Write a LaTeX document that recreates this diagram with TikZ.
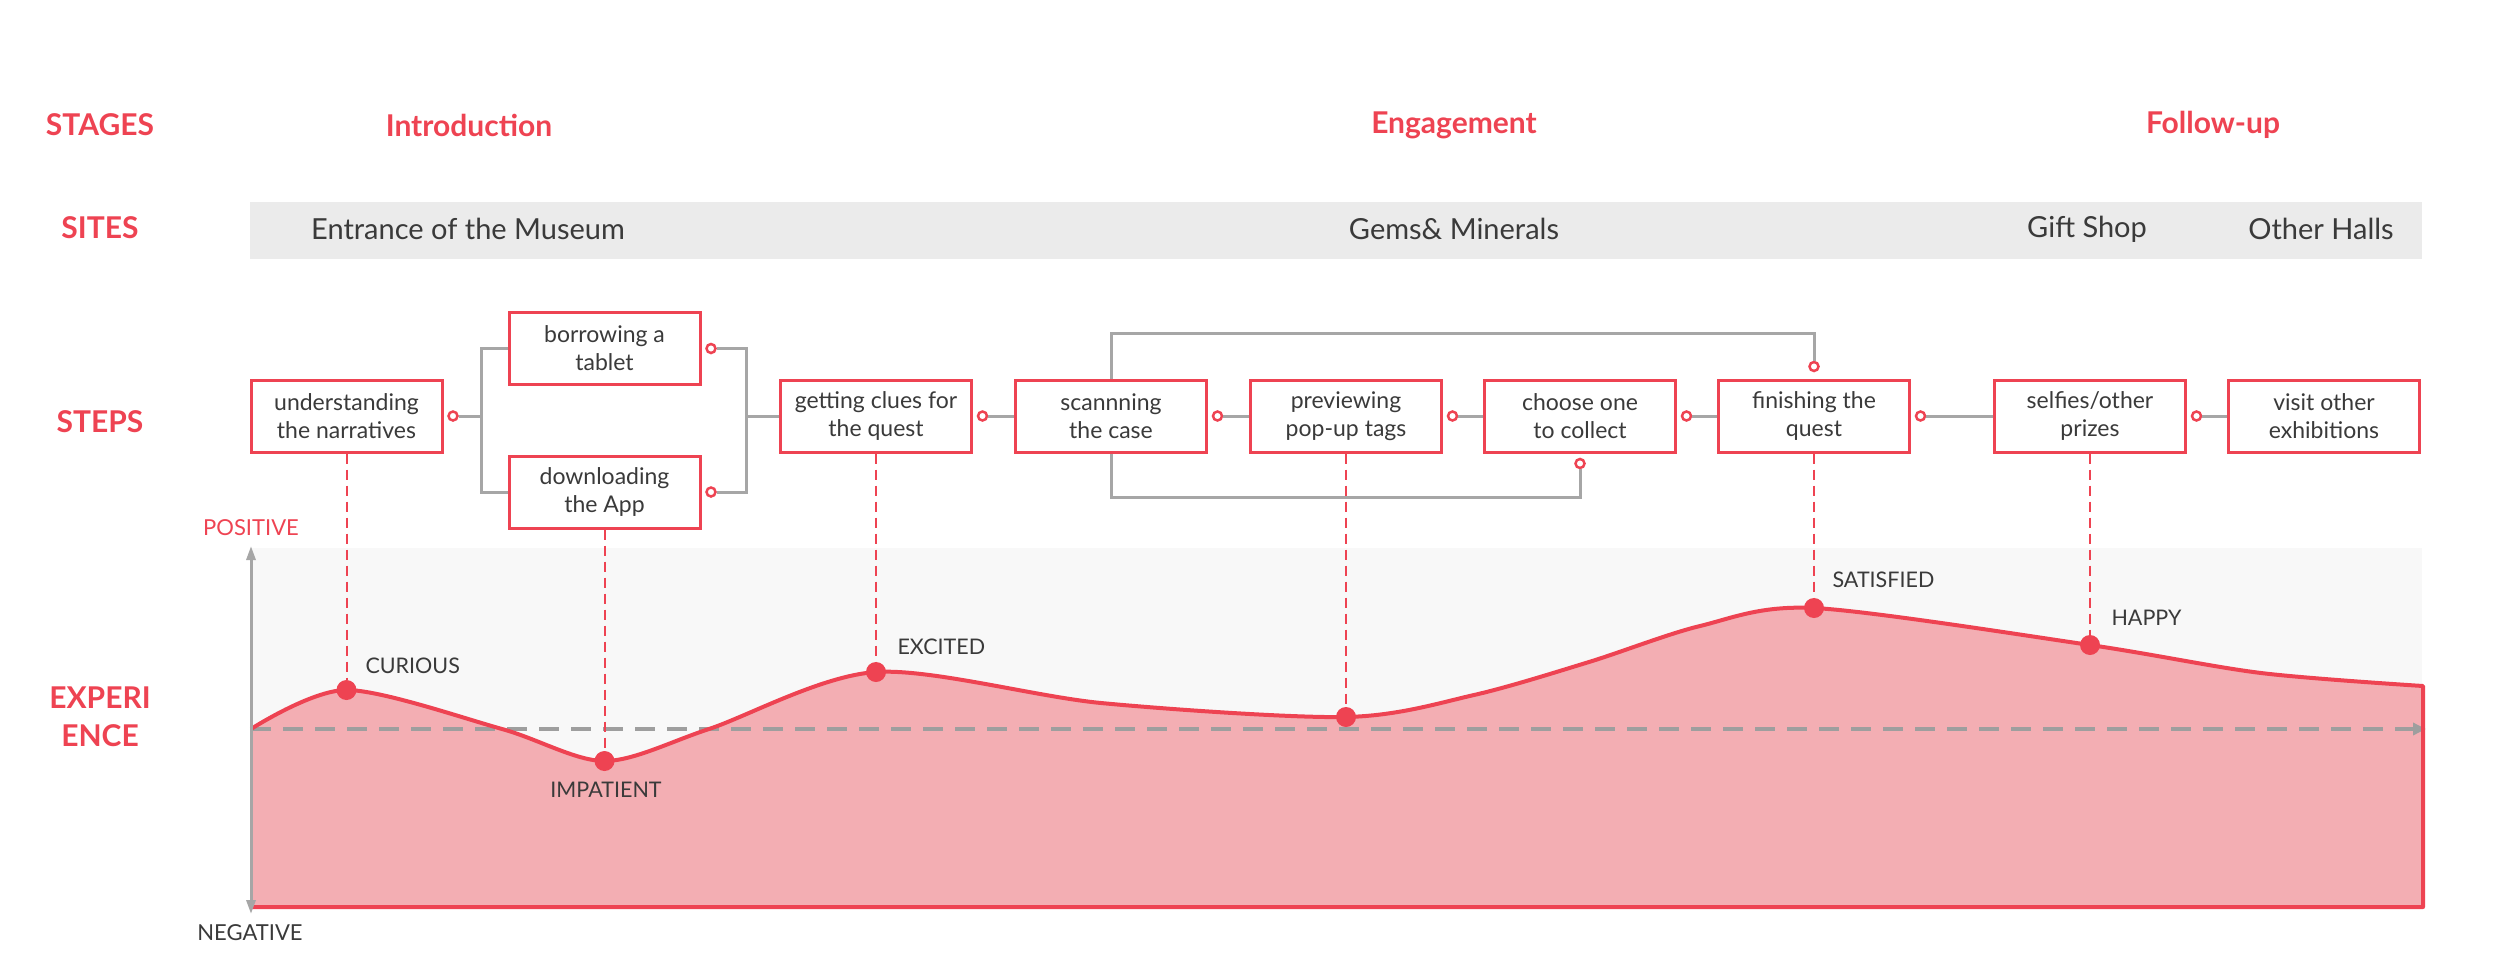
\documentclass[tikz,border=0pt]{standalone}
\usepackage{fontspec}
\setmainfont{Lato}
\usetikzlibrary{arrows.meta}
\definecolor{jred}{HTML}{EE4352}
\definecolor{jpink}{HTML}{F3AEB3}
\definecolor{jbg}{HTML}{F8F8F8}
\definecolor{jband}{HTML}{EBEBEB}
\definecolor{jline}{HTML}{A6A6A6}
\definecolor{jtext}{HTML}{3A3A3A}
\definecolor{jbase}{HTML}{9E9E9E}
\begin{document}
\begin{tikzpicture}[x=1pt,y=-1pt,
  stepbox/.style={draw=jred, line width=3pt, fill=white, minimum width=191pt, minimum height=72pt, inner sep=0pt, align=center, font=\fontsize{23}{28}\selectfont, text=jtext},
  port/.style={circle, draw=jred, fill=white, line width=2.5pt, minimum size=9pt, inner sep=0pt},
  dot/.style={circle, fill=jred, minimum size=20pt, inner sep=0pt},
  link/.style={draw=jline, line width=3pt},
  drop/.style={draw=jred, line width=2pt, dash pattern=on 10pt off 6pt},
  head/.style={font=\fontsize{30}{36}\bfseries\selectfont, text=jred},
  site/.style={font=\fontsize{29}{34}\selectfont, text=jtext},
  emo/.style={font=\fontsize{21.5}{26}\selectfont, text=jtext},
  axlab/.style={font=\fontsize{22}{26}\selectfont},
]
\useasboundingbox (0,0) rectangle (2500,977);
% rows labels
\node[head] (hstages) at (100,125) {STAGES};
\node[head] (hsites) at (100,228) {SITES};
\node[head] (hsteps) at (100,422) {STEPS};
\node[head] (hexp1) at (100,698) {EXPERI};
\node[head] (hexp2) at (100,736) {ENCE};
% stages
\node[head] (st1) at (469,125) {Introduction};
\node[head] (st2) at (1454,125) {Engagement};
\node[head] (st3) at (2213,125) {Follow-up};
% sites band
\fill[jband] (250,202) rectangle (2422,259);
\node[site] (s1) at (468,229) {Entrance of the Museum};
\node[site] (s2) at (1454,229) {Gems\& Minerals};
\node[site] (s3) at (2087,229) {Gift Shop};
\node[site] (s4) at (2321,229) {Other Halls};
% experience area
\fill[jbg] (251,548) rectangle (2422,907);
\fill[jpink] (251,907) -- plot[smooth] coordinates {(251,729) (346.5,690) (502,729) (604.5,761) (709,729) (876,672) (1101,703) (1346,717) (1474,695) (1589,662) (1700,626) (1814,608) (2090,645) (2261,673) (2423,686)} -- (2423,907) -- cycle;
\draw[jbase, line width=4.5pt, dash pattern=on 20pt off 12pt, -{Triangle[length=13pt,width=12pt]}] (251,729) -- (2426,729);
\draw[jred, line width=4pt, line join=round] plot[smooth] coordinates {(251,729) (346.5,690) (502,729) (604.5,761) (709,729) (876,672) (1101,703) (1346,717) (1474,695) (1589,662) (1700,626) (1814,608) (2090,645) (2261,673) (2423,686)} -- (2423,907) -- (251,907);
\draw[jline, line width=3pt, {Triangle[length=14pt,width=9pt]}-{Triangle[length=14pt,width=9pt]}] (251,914) -- (251,546);
\node[axlab, text=jred] (pos) at (251,528) {POSITIVE};
\node[axlab, text=jtext] (neg) at (250,933) {NEGATIVE};
% steps
\node[stepbox] (u) at (346.5,416) {understanding\\the narratives};
\node[stepbox] (b) at (604.5,348.5) {borrowing a\\tablet};
\node[stepbox] (d) at (604.5,492) {downloading\\the App};
\node[stepbox] (g) at (876,416) {getting clues for\\the quest};
\node[stepbox] (s) at (1111,416) {scannning\\the case};
\node[stepbox] (p) at (1346,416) {previewing\\pop-up tags};
\node[stepbox] (c) at (1580,416) {choose one\\to collect};
\node[stepbox] (f) at (1814,416) {finishing the\\quest};
\node[stepbox] (sf) at (2090,416) {selfies/other\\prizes};
\node[stepbox] (v) at (2324,416) {visit other\\exhibitions};
% ports
\node[port] (pu) at ([xshift=9.5pt]u.east) {};
\node[port] (pb) at ([xshift=9.5pt]b.east) {};
\node[port] (pd) at ([xshift=9.5pt]d.east) {};
\node[port] (pg) at ([xshift=9.5pt]g.east) {};
\node[port] (ps) at ([xshift=9.5pt]s.east) {};
\node[port] (pp) at ([xshift=9.5pt]p.east) {};
\node[port] (pc) at ([xshift=9.5pt]c.east) {};
\node[port] (pf) at ([xshift=9.5pt]f.east) {};
\node[port] (psf) at ([xshift=9.5pt]sf.east) {};
\node[port] (pc2) at ([yshift=-10pt]c.south) {};
\node[port] (pf2) at ([yshift=12pt]f.north) {};
% links
\coordinate (j1) at (481,416);
\coordinate (j2) at (746,416);
\draw[link] (pu.east) -- (j1);
\draw[link] (b.west) -| (j1) |- (d.west);
\draw[link] (pb.east) -| (j2) |- (pd.east);
\draw[link] (j2) -- (g.west);
\draw[link] (pg.east) -- (s.west);
\draw[link] (ps.east) -- (p.west);
\draw[link] (pp.east) -- (c.west);
\draw[link] (pc.east) -- (f.west);
\draw[link] (pf.east) -- (sf.west);
\draw[link] (psf.east) -- (v.west);
\draw[link] (s.north) -- ++(0,-45) -| (pf2.north);
\draw[link] (s.south) -- ++(0,44) -| (pc2.south);
% emotion dots
\node[dot] (e1) at (346.5,690) {};
\node[dot] (e2) at (604.5,761) {};
\node[dot] (e3) at (876,672) {};
\node[dot] (e4) at (1346,717) {};
\node[dot] (e5) at (1814,608) {};
\node[dot] (e6) at (2090,645) {};
\draw[drop] (u.south) -- (e1);
\draw[drop] (d.south) -- (e2);
\draw[drop] (g.south) -- (e3);
\draw[drop] (p.south) -- (e4);
\draw[drop] (f.south) -- (e5);
\draw[drop] (sf.south) -- (e6);
\node[emo, anchor=west] (l1) at (362,666) {CURIOUS};
\node[emo] (l2) at (606,790) {IMPATIENT};
\node[emo, anchor=west] (l3) at (894,647) {EXCITED};
\node[emo, anchor=west] (l5) at (1829,580) {SATISFIED};
\node[emo, anchor=west] (l6) at (2108,618) {HAPPY};
\end{tikzpicture}
\end{document}
